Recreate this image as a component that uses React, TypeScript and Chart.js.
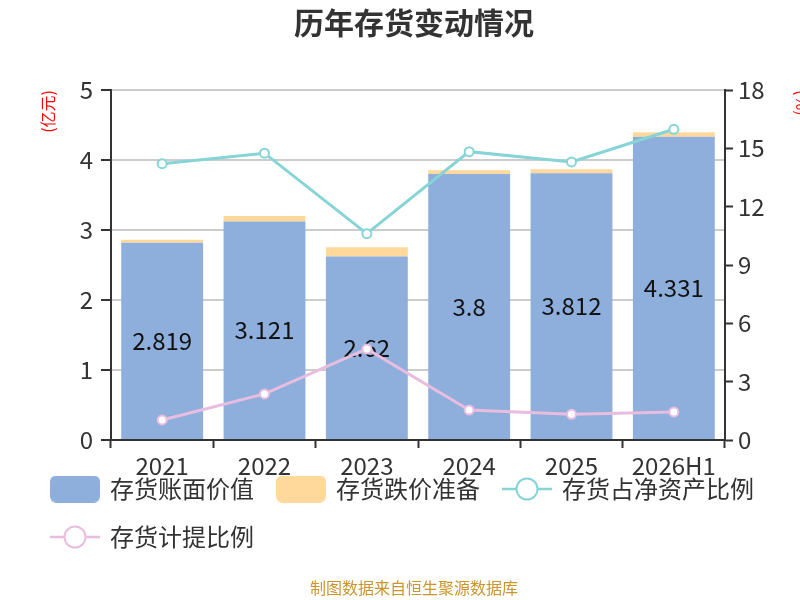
import { useEffect, useRef } from 'react';
import { Chart, registerables } from 'chart.js';

Chart.register(...registerables);

const FONT = '"Noto Sans CJK SC", "Noto Sans", sans-serif';

const categories = ['2021', '2022', '2023', '2024', '2025', '2026H1'];
const bookValue = [2.819, 3.121, 2.62, 3.8, 3.812, 4.331];
const impairment = [0.04, 0.08, 0.135, 0.055, 0.055, 0.065];
const netAssetRatio = [14.21, 14.75, 10.61, 14.83, 14.3, 15.98];
const provisionRatio = [1.03, 2.37, 4.68, 1.54, 1.32, 1.44];

const seriesNames = ['存货账面价值', '存货跌价准备', '存货占净资产比例', '存货计提比例'];
const colors = ['#8eaedb', '#ffd99b', '#86d4d6', '#e8bde0'];

const leftMax = 5;
const leftStep = 1;
const rightMax = 18;
const rightStep = 3;

function barSymbol(color: string): HTMLCanvasElement {
  const c = document.createElement('canvas');
  c.width = 50;
  c.height = 27;
  const ctx = c.getContext('2d')!;
  ctx.fillStyle = color;
  ctx.beginPath();
  (ctx as any).roundRect(0, 0, 50, 27, 6);
  ctx.fill();
  return c;
}

function lineSymbol(color: string): HTMLCanvasElement {
  const c = document.createElement('canvas');
  c.width = 50;
  c.height = 26;
  const ctx = c.getContext('2d')!;
  ctx.strokeStyle = color;
  ctx.lineWidth = 2.5;
  ctx.beginPath();
  ctx.moveTo(0, 13);
  ctx.lineTo(50, 13);
  ctx.stroke();
  ctx.beginPath();
  ctx.arc(25, 13, 10.5, 0, Math.PI * 2);
  ctx.fillStyle = '#fff';
  ctx.fill();
  ctx.lineWidth = 2;
  ctx.stroke();
  return c;
}

const barLabelPlugin = {
  id: 'barLabels',
  afterDatasetDraw(chart: any, args: any) {
    if (args.index !== 0) return;
    const meta = chart.getDatasetMeta(0);
    const ctx = chart.ctx;
    ctx.save();
    ctx.font = `24px ${FONT}`;
    ctx.fillStyle = '#111';
    ctx.textAlign = 'center';
    ctx.textBaseline = 'middle';
    meta.data.forEach((el: any, i: number) => {
      const { x, y, base } = el.getProps(['x', 'y', 'base'], true);
      ctx.fillText(String(bookValue[i]), x, (y + base) / 2);
    });
    ctx.restore();
  },
};

// pull the legend up closer to the x-axis labels, as in the reference
const legendShiftPlugin = {
  id: 'legendShift',
  afterLayout(chart: any) {
    if (chart.legend && chart.chartArea) {
      const h = chart.legend.height;
      chart.legend.top = chart.chartArea.bottom + 13;
      chart.legend.bottom = chart.legend.top + h;
    }
  },
};

export default function App() {
  const ref = useRef<HTMLCanvasElement>(null);

  useEffect(() => {
    if (!ref.current) return;
    const symbols = [
      barSymbol(colors[0]),
      barSymbol(colors[1]),
      lineSymbol(colors[2]),
      lineSymbol(colors[3]),
    ];
    const chart = new Chart(ref.current, {
      type: 'bar',
      data: {
        labels: categories,
        datasets: [
          {
            type: 'bar',
            label: seriesNames[0],
            data: bookValue,
            backgroundColor: colors[0],
            yAxisID: 'y',
            stack: 's',
            barPercentage: 0.8,
            categoryPercentage: 1,
            order: 0,
          },
          {
            type: 'bar',
            label: seriesNames[1],
            data: impairment,
            backgroundColor: colors[1],
            yAxisID: 'y',
            stack: 's',
            barPercentage: 0.8,
            categoryPercentage: 1,
            order: 0,
          },
          {
            type: 'line',
            label: seriesNames[2],
            data: netAssetRatio,
            borderColor: colors[2],
            backgroundColor: '#fff',
            borderWidth: 3,
            pointRadius: 4.5,
            pointBorderWidth: 2,
            pointBackgroundColor: '#fff',
            pointBorderColor: colors[2],
            yAxisID: 'y1',
            order: -1,
          } as any,
          {
            type: 'line',
            label: seriesNames[3],
            data: provisionRatio,
            borderColor: colors[3],
            backgroundColor: '#fff',
            borderWidth: 3,
            pointRadius: 4.5,
            pointBorderWidth: 2,
            pointBackgroundColor: '#fff',
            pointBorderColor: colors[3],
            yAxisID: 'y1',
            order: -1,
          } as any,
        ],
      },
      options: {
        responsive: false,
        animation: false,
        layout: { padding: { left: 28, right: 0, top: 0, bottom: 0 } },
        plugins: {
          title: {
            display: true,
            text: '历年存货变动情况',
            color: '#333',
            font: { family: FONT, size: 30, weight: 'bold' },
            padding: { top: 5, bottom: 49 },
          },
          subtitle: {
            display: true,
            position: 'bottom',
            text: '制图数据来自恒生聚源数据库',
            color: '#c9952e',
            font: { family: FONT, size: 16 },
            padding: { top: -10.4, bottom: 2.4 },
          },
          legend: {
            position: 'bottom',
            align: 'start',
            labels: {
              usePointStyle: true,
              pointStyleWidth: 46,
              padding: 24,
              color: '#333',
              font: { family: FONT, size: 24 },
              generateLabels: () =>
                seriesNames.map((name, i) => ({
                  text: name,
                  pointStyle: symbols[i] as any,
                  fillStyle: colors[i],
                  strokeStyle: colors[i],
                  lineWidth: 0,
                  hidden: false,
                  datasetIndex: i,
                  fontColor: '#333',
                })),
            },
          },
          tooltip: { enabled: false },
        },
        scales: {
          x: {
            stacked: true,
            grid: {
              drawOnChartArea: false,
              drawTicks: true,
              tickLength: 8,
              tickColor: '#333',
              tickWidth: 2,
            },
            border: { color: '#333', width: 2 },
            ticks: {
              color: '#333',
              font: { family: FONT, size: 24 },
              padding: 3,
              maxRotation: 0,
              autoSkip: false,
            },
          },
          y: {
            stacked: true,
            position: 'left',
            min: 0,
            max: leftMax,
            afterFit: (s: any) => {
              s.width = 83;
            },
            ticks: {
              stepSize: leftStep,
              color: '#333',
              font: { family: FONT, size: 24 },
              padding: 8,
            },
            grid: {
              color: '#cccccc',
              lineWidth: 2,
              tickColor: '#333',
              tickLength: 10,
              tickWidth: 2,
            },
            border: { color: '#333', width: 2 },
            title: {
              display: true,
              text: '(亿元)',
              color: 'red',
              align: 'end',
              font: { family: FONT, size: 16 },
              padding: { top: 10.4, bottom: 0 },
            },
          },
          y1: {
            position: 'right',
            min: 0,
            max: rightMax,
            afterFit: (s: any) => {
              s.width = 75;
            },
            ticks: {
              stepSize: rightStep,
              color: '#333',
              font: { family: FONT, size: 24 },
              padding: 5,
            },
            grid: {
              drawOnChartArea: false,
              tickColor: '#333',
              tickLength: 8,
              tickWidth: 2,
            },
            border: { color: '#333', width: 2 },
            title: {
              display: true,
              text: '(%)',
              color: 'red',
              align: 'end',
              font: { family: FONT, size: 16 },
              padding: { top: -12, bottom: 0 },
            },
          },
        },
      },
      plugins: [barLabelPlugin, legendShiftPlugin],
    } as any);
    return () => chart.destroy();
  }, []);

  return (
    <div style={{ position: 'absolute', left: 0, top: 0, width: 800, height: 600, background: '#fff' }}>
      <canvas ref={ref} width={800} height={600} style={{ width: 800, height: 600, display: 'block' }} />
    </div>
  );
}
